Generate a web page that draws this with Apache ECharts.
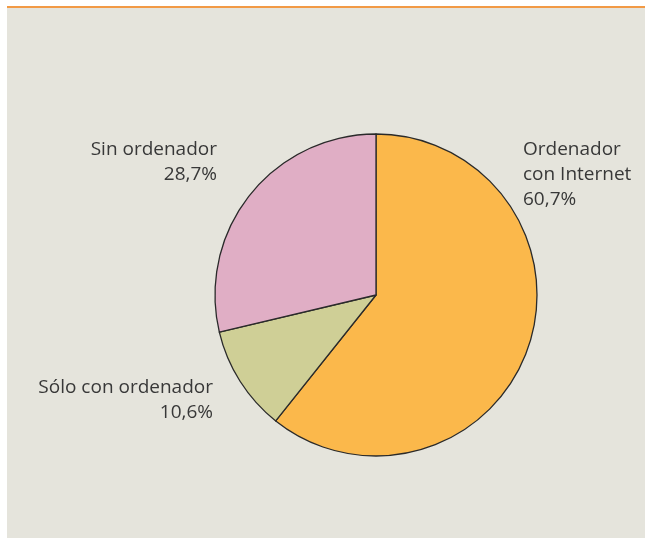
<!DOCTYPE html>
<html><head><meta charset="utf-8">
<script src="https://cdn.jsdelivr.net/npm/echarts@6/dist/echarts.min.js"></script>
<style>html,body{margin:0;padding:0;background:#fff}#c{width:645px;height:538px}</style>
</head><body><div id="c"></div>
<script>
const categories = ["Ordenador\ncon Internet", "Sólo con ordenador", "Sin ordenador"];
const values = [60.7, 10.6, 28.7];
const valueLabels = ["60,7%", "10,6%", "28,7%"];
const colors = ["#fbb84b", "#cfcf96", "#e0aec5"];

const labelPos = [
  {x: 523, y: 137, align: 'left'},
  {x: 213, y: 375, align: 'right'},
  {x: 217, y: 137, align: 'right'}
];

const chart = echarts.init(document.getElementById('c'), null, {renderer: 'canvas'});
chart.setOption({
  backgroundColor: '#ffffff',
  animation: false,
  graphic: [
    {type: 'rect', shape: {x: 7, y: 8, width: 640, height: 532}, style: {fill: '#e5e4dc'}, z: -10},
    {type: 'rect', shape: {x: 7, y: 6, width: 640, height: 2}, style: {fill: '#f29a45'}, z: -10}
  ],
  series: [{
    type: 'pie',
    center: [376, 295],
    radius: [0, 161],
    startAngle: 90,
    clockwise: true,
    silent: true,
    data: categories.map((c, i) => ({
      name: c, value: values[i],
      itemStyle: {color: colors[i]},
      label: {align: labelPos[i].align}
    })),
    itemStyle: {borderColor: '#2a2a2a', borderWidth: 1.3},
    label: {
      show: true,
      position: 'outside',
      formatter: p => p.name + '\n' + valueLabels[p.dataIndex],
      fontFamily: 'Open Sans',
      fontSize: 19,
      lineHeight: 25,
      color: '#383838',
      overflow: 'none',
      width: 300
    },
    labelLine: {show: false},
    labelLayout: p => ({
      x: labelPos[p.dataIndex].x,
      y: labelPos[p.dataIndex].y,
      align: labelPos[p.dataIndex].align,
      verticalAlign: 'top'
    })
  }]
});
</script></body></html>
